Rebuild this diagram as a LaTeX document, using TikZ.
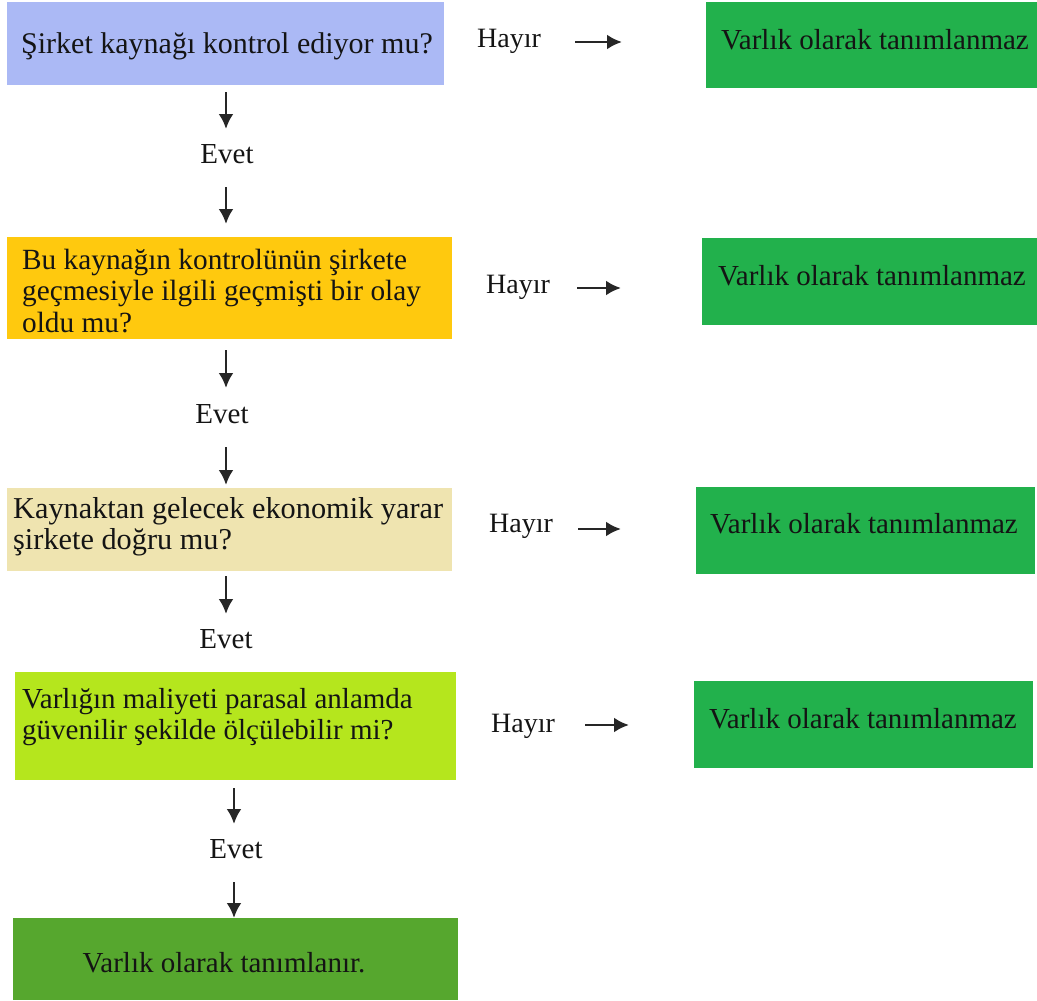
\documentclass[tikz,border=0pt]{standalone}
\usepackage{fontspec}
\setmainfont{Liberation Serif}
\usetikzlibrary{arrows.meta}

\definecolor{askblue}{RGB}{171,185,245}
\definecolor{askgold}{RGB}{255,201,14}
\definecolor{askcream}{RGB}{239,228,176}
\definecolor{asklime}{RGB}{181,230,29}
\definecolor{nogreen}{RGB}{34,177,76}
\definecolor{yesgreen}{RGB}{86,167,46}
\definecolor{ink}{RGB}{20,20,20}

\begin{document}
\begin{tikzpicture}[x=1pt,y=-1pt,
  panel/.style={draw=none, inner sep=0pt, anchor=north west},
  qtext/.style={inner sep=0pt, text=ink, font=\fontsize{#1}{31.5}\selectfont},
  qtext/.default=30,
  mtext/.style={qtext=#1, align=left, anchor=north west},
  stext/.style={inner sep=0pt, text=ink, font=\fontsize{#1}{31.5}\selectfont},
  stext/.default=29,
  arr/.style={line width=2.8pt, draw=black!85, -{Latex[length=15pt,width=15pt]}}]
\useasboundingbox (0,0) rectangle (1037,1001);

% question panels (left column)
\node[panel, fill=askblue,  minimum width=437pt, minimum height=83pt]  (q1) at (7,2) {};
\node[panel, fill=askgold,  minimum width=445pt, minimum height=102pt] (q2) at (7,237) {};
\node[panel, fill=askcream, minimum width=445pt, minimum height=83pt]  (q3) at (7,488) {};
\node[panel, fill=asklime,  minimum width=441pt, minimum height=108pt] (q4) at (15,672) {};
\node[panel, fill=yesgreen, minimum width=445pt, minimum height=82pt]  (ok) at (13,918) {};

% rejection panels (right column)
\node[panel, fill=nogreen, minimum width=331pt, minimum height=86pt] (n1) at (706,2) {};
\node[panel, fill=nogreen, minimum width=335pt, minimum height=87pt] (n2) at (702,238) {};
\node[panel, fill=nogreen, minimum width=339pt, minimum height=87pt] (n3) at (696,487) {};
\node[panel, fill=nogreen, minimum width=339pt, minimum height=87pt] (n4) at (694,681) {};

% question texts
\node[qtext=30, anchor=base] (t1) at (227,53) {Şirket kaynağı kontrol ediyor mu?};
\node[mtext=29.3] (t2) at (22,247) {\strut Bu kaynağın kontrolünün şirkete\\geçmesiyle ilgili geçmişti bir olay\\oldu mu?};
\node[mtext=30.3] (t3) at (13,496) {\strut Kaynaktan gelecek ekonomik yarar\\şirkete doğru mu?};
\node[mtext=29] (t4) at (22,686) {\strut Varlığın maliyeti parasal anlamda\\güvenilir şekilde ölçülebilir mi?};
\node[stext, anchor=base] (t5) at (224,972) {Varlık olarak tanımlanır.};

% rejection texts
\node[stext, anchor=base west] (r1) at (721,49)  {Varlık olarak tanımlanmaz};
\node[stext, anchor=base west] (r2) at (718,285) {Varlık olarak tanımlanmaz};
\node[stext, anchor=base west] (r3) at (710,533) {Varlık olarak tanımlanmaz};
\node[stext, anchor=base west] (r4) at (709,728) {Varlık olarak tanımlanmaz};

% answer labels
\node[stext, anchor=base] (e1) at (227,163) {Evet};
\node[stext, anchor=base] (e2) at (222,423) {Evet};
\node[stext, anchor=base] (e3) at (226,648) {Evet};
\node[stext, anchor=base] (e4) at (236,858) {Evet};

\node[stext=28, anchor=base west] (h1) at (477,47)  {Hayır};
\node[stext=28, anchor=base west] (h2) at (486,293) {Hayır};
\node[stext=28, anchor=base west] (h3) at (489,532) {Hayır};
\node[stext=28, anchor=base west] (h4) at (491,732) {Hayır};

% arrow end points
\coordinate (v1a) at (226,92);  \coordinate (v1b) at (226,129);
\coordinate (v2a) at (226,187); \coordinate (v2b) at (226,224);
\coordinate (v3a) at (226,350); \coordinate (v3b) at (226,388);
\coordinate (v4a) at (226,447); \coordinate (v4b) at (226,485);
\coordinate (v5a) at (226,576); \coordinate (v5b) at (226,614);
\coordinate (v6a) at (234,788); \coordinate (v6b) at (234,824);
\coordinate (v7a) at (234,882); \coordinate (v7b) at (234,918);

\coordinate (s1a) at (575,42);  \coordinate (s1b) at (622,42);
\coordinate (s2a) at (577,288); \coordinate (s2b) at (621,288);
\coordinate (s3a) at (578,529); \coordinate (s3b) at (621,529);
\coordinate (s4a) at (585,725); \coordinate (s4b) at (629,725);

% "Evet" arrows
\draw[arr] (v1a) -- (v1b);
\draw[arr] (v2a) -- (v2b);
\draw[arr] (v3a) -- (v3b);
\draw[arr] (v4a) -- (v4b);
\draw[arr] (v5a) -- (v5b);
\draw[arr] (v6a) -- (v6b);
\draw[arr] (v7a) -- (v7b);

% "Hayır" arrows
\draw[arr] (s1a) -- (s1b);
\draw[arr] (s2a) -- (s2b);
\draw[arr] (s3a) -- (s3b);
\draw[arr] (s4a) -- (s4b);
\end{tikzpicture}
\end{document}
